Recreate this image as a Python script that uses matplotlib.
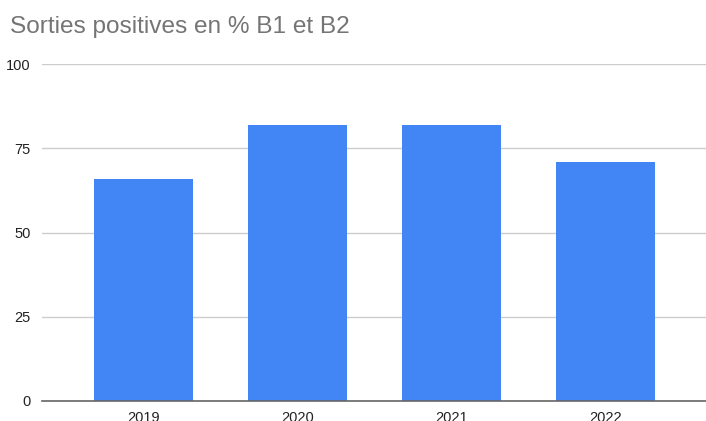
import matplotlib
matplotlib.use("Agg")
import matplotlib.pyplot as plt

categories = ["2019", "2020", "2021", "2022"]
values = [66, 82, 82, 71]
yticks = [0, 25, 50, 75, 100]

plt.rcParams['font.family'] = ['Liberation Sans', 'DejaVu Sans']
fig = plt.figure(figsize=(7.06, 4.21), dpi=100)
ax = fig.add_axes([42/706, 20/421, 664/706, 337/421])
x = list(range(len(categories)))
ax.bar(x, values, width=0.643, color="#4285F4", zorder=3)
ax.set_xlim(-0.66, 3.65)
ax.set_ylim(0, 100)
ax.set_yticks(yticks)
ax.set_yticklabels([str(t) for t in yticks])
ax.set_xticks(x)
ax.set_xticklabels(categories)
ax.grid(axis='y', color="#cccccc", linewidth=1, zorder=0)
for s in ["top", "right", "left"]:
    ax.spines[s].set_visible(False)
ax.spines["bottom"].set_color("#666666")
ax.spines["bottom"].set_linewidth(1.2)
ax.spines["bottom"].set_zorder(4)
ax.tick_params(axis='both', length=0, labelsize=10.5, colors="#222222")
ax.tick_params(axis='y', pad=8)
ax.tick_params(axis='x', pad=7)
fig.text(10/706, 1 - 27/421, "Sorties positives en % B1 et B2", fontsize=17.6,
         color="#757575", va="center", ha="left")
fig.savefig("out.png", dpi=100)
